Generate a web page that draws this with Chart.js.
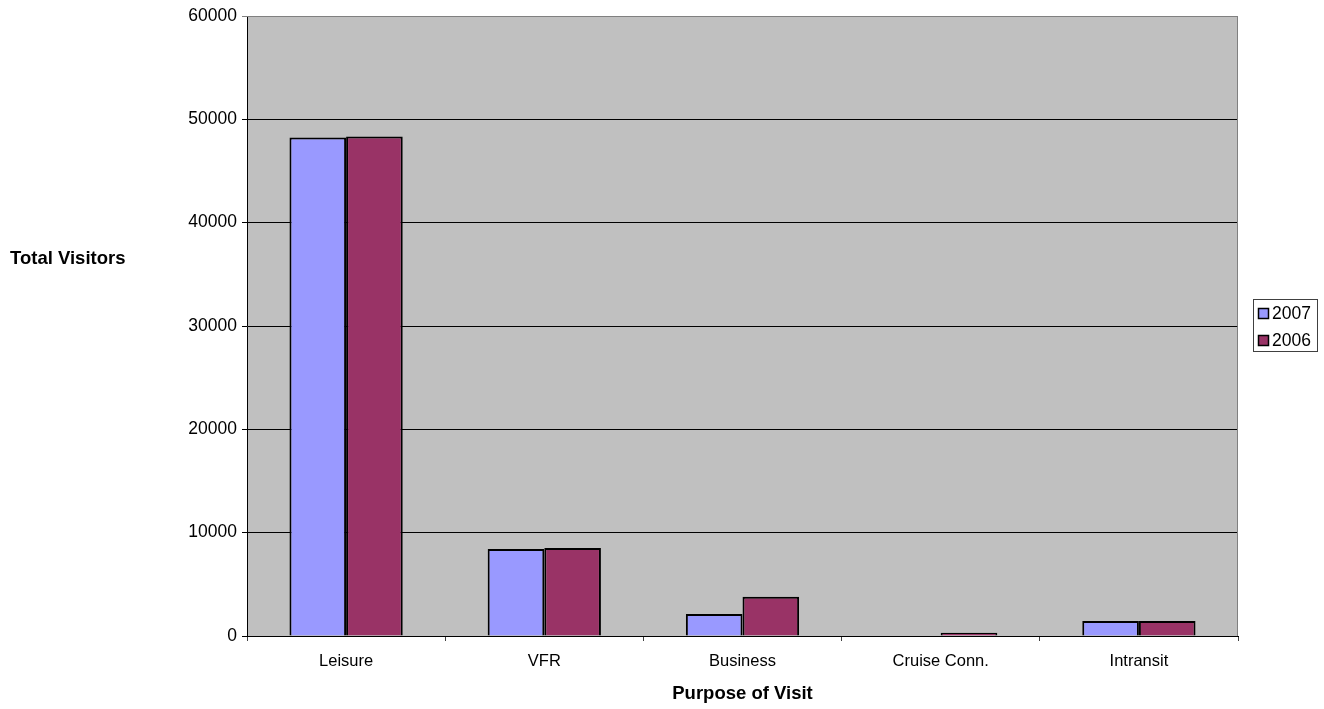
<!DOCTYPE html>
<html>
<head>
<meta charset="utf-8">
<script src="https://cdn.jsdelivr.net/npm/chart.js@4/dist/chart.umd.min.js"></script>
<style>
  html, body { margin: 0; padding: 0; background: #ffffff; }
  #wrap { position: relative; width: 1324px; height: 709px; }
  canvas { display: block; }
</style>
</head>
<body>
<div id="wrap"><canvas id="c" width="1324" height="709"></canvas></div>
<script>
// Visitors by purpose of visit, 2007 vs 2006
const categories = ['Leisure', 'VFR', 'Business', 'Cruise Conn.', 'Intransit'];
const visitors2007 = [48250, 8420, 2130, 0, 1460];
const visitors2006 = [48330, 8520, 3810, 320, 1460];
const seriesNames = ['2007', '2006'];
const yTicks = [0, 10000, 20000, 30000, 40000, 50000, 60000];

const FONT = 'Arial, "Liberation Sans", Helvetica, sans-serif';
const PLOT = { left: 247, top: 16, right: 1238, bottom: 636 };

// grey plot background, grey frame, axis titles and boxed legend
const decor = {
  id: 'decor',
  beforeDraw(chart) {
    const { ctx, chartArea: a } = chart;
    ctx.save();
    ctx.fillStyle = '#C0C0C0';
    ctx.fillRect(a.left, a.top, a.right - a.left, a.bottom - a.top);
    ctx.restore();
  },
  afterDraw(chart) {
    const { ctx, chartArea: a } = chart;
    ctx.save();
    ctx.strokeStyle = '#808080';
    ctx.lineWidth = 1;
    ctx.beginPath();
    ctx.moveTo(a.left, a.top + 0.5);
    ctx.lineTo(a.right - 0.5, a.top + 0.5);
    ctx.lineTo(a.right - 0.5, a.bottom);
    ctx.stroke();

    ctx.fillStyle = '#000';
    ctx.font = 'bold 18.5px ' + FONT;
    ctx.textBaseline = 'middle';
    ctx.textAlign = 'left';
    ctx.fillText('Total Visitors', 10, 259);
    ctx.textAlign = 'center';
    ctx.fillText('Purpose of Visit', (a.left + a.right) / 2, 694);

    // legend
    const lx = 1253, ly = 299, lw = 65, lh = 53;
    ctx.fillStyle = '#fff';
    ctx.fillRect(lx, ly, lw, lh);
    ctx.strokeStyle = '#404040';
    ctx.strokeRect(lx + 0.5, ly + 0.5, lw - 1, lh - 1);
    ctx.font = '17.5px ' + FONT;
    ctx.textAlign = 'left';
    chart.data.datasets.forEach((ds, i) => {
      const cy = ly + 14 + i * 27;
      ctx.fillStyle = ds.backgroundColor;
      ctx.fillRect(lx + 5, cy - 5, 11, 11);
      ctx.strokeStyle = '#000';
      ctx.lineWidth = 1.5;
      ctx.strokeRect(lx + 5.5, cy - 4.5, 10, 10);
      ctx.fillStyle = '#000';
      ctx.fillText(ds.label, lx + 19, cy + 1);
    });
    ctx.restore();
  }
};

new Chart(document.getElementById('c'), {
  type: 'bar',
  data: {
    labels: categories,
    datasets: [
      { label: seriesNames[0], data: visitors2007, backgroundColor: '#9999FF', borderColor: '#000', borderWidth: 2 },
      { label: seriesNames[1], data: visitors2006, backgroundColor: '#993366', borderColor: '#000', borderWidth: 2 }
    ]
  },
  options: {
    responsive: false,
    animation: false,
    devicePixelRatio: 1,
    layout: { padding: { left: 0, top: PLOT.top, right: 1324 - PLOT.right, bottom: 0 } },
    plugins: { legend: { display: false }, tooltip: { enabled: false } },
    datasets: { bar: { categoryPercentage: 2 / 3.5, barPercentage: 1 } },
    scales: {
      x: {
        afterFit(s) { s.height = 709 - PLOT.bottom; },
        grid: { drawOnChartArea: false, tickLength: 5, color: '#404040', offset: true },
        border: { color: '#000', width: 1 },
        ticks: { color: '#000', font: { family: FONT, size: 16.5 }, padding: 11 }
      },
      y: {
        min: 0, max: 60000,
        afterFit(s) { s.width = PLOT.left; },
        afterBuildTicks(s) { s.ticks = yTicks.map(v => ({ value: v })); },
        grid: {
          tickLength: 5,
          color: c => (c.tick && c.tick.value === 60000 ? '#808080' : '#000'),
          lineWidth: 1
        },
        border: { color: '#000', width: 1 },
        ticks: {
          color: '#000', font: { family: FONT, size: 17.5 }, padding: 5,
          callback: v => String(v)
        }
      }
    }
  },
  plugins: [decor]
});
</script>
</body>
</html>
